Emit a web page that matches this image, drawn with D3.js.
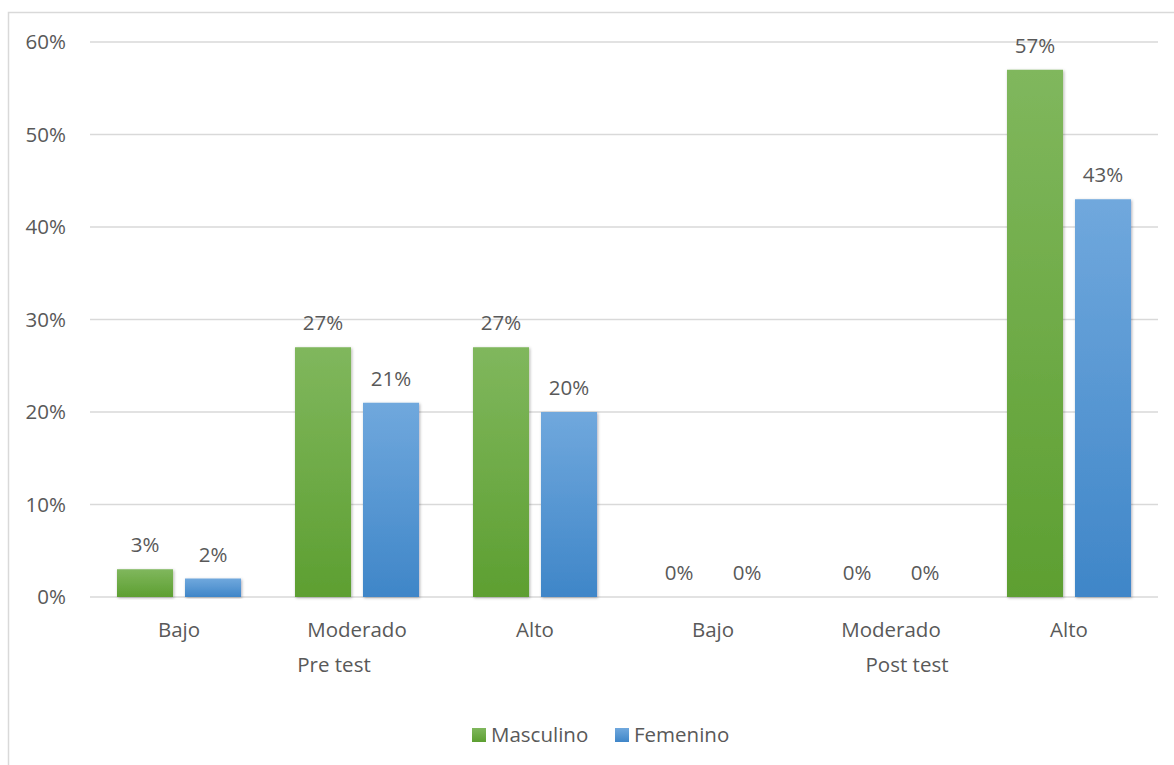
<!DOCTYPE html>
<html>
<head>
<meta charset="utf-8">
<script src="https://cdn.jsdelivr.net/npm/d3@7"></script>
<style>
  body { margin: 0; background: #fff; }
  text { font-family: "Open Sans", "Noto Sans", sans-serif; fill: #595959; font-size: 20.5px; }
</style>
</head>
<body>
<svg id="chart"></svg>
<script>
// chart data
var categories = ["Bajo", "Moderado", "Alto", "Bajo", "Moderado", "Alto"];
var groups = ["Pre test", "Post test"];
var series = ["Masculino", "Femenino"];
var masculino = [3, 27, 27, 0, 0, 57];
var femenino = [2, 21, 20, 0, 0, 43];
var yTicks = [0, 10, 20, 30, 40, 50, 60];

var width = 1174,
    height = 765;

var margin = {left: 90, right: 16, top: 42, bottom: 168};

var svg = d3.select("#chart")
    .attr("width", width)
    .attr("height", height);

// gradients for the bars
var defs = svg.append("defs");
var grads = [["gGreen", "#80b75d", "#5d9f31"], ["gBlue", "#70a8dd", "#3f86c8"]];
grads.forEach(function(g) {
  var lg = defs.append("linearGradient").attr("id", g[0])
      .attr("x1", 0).attr("y1", 0).attr("x2", 0).attr("y2", 1);
  lg.append("stop").attr("offset", "0%").attr("stop-color", g[1]);
  lg.append("stop").attr("offset", "100%").attr("stop-color", g[2]);
});
var f = defs.append("filter").attr("id", "shadow")
    .attr("x", "-20%").attr("y", "-10%").attr("width", "140%").attr("height", "120%");
f.append("feDropShadow").attr("dx", 1).attr("dy", 1).attr("stdDeviation", 1.5)
    .attr("flood-color", "#000").attr("flood-opacity", 0.3);

// chart border (top and left visible)
svg.append("path")
    .attr("d", "M8.5," + (height) + "V12.5H" + width)
    .attr("fill", "none")
    .attr("stroke", "#d9d9d9")
    .attr("stroke-width", 1.5);

var x0 = d3.scaleBand()
    .domain(d3.range(categories.length))
    .range([margin.left, width - margin.right]);

var x1 = d3.scaleBand()
    .domain(series)
    .range([0, x0.bandwidth()])
    .paddingInner(0.176)
    .paddingOuter(0.397);

var y = d3.scaleLinear()
    .domain([0, 60])
    .range([height - margin.bottom, margin.top]);

// gridlines
svg.append("g")
  .selectAll("line")
    .data(yTicks)
  .enter().append("line")
    .attr("x1", margin.left)
    .attr("x2", width - margin.right)
    .attr("y1", function(d) { return y(d); })
    .attr("y2", function(d) { return y(d); })
    .attr("stroke", "#d9d9d9")
    .attr("stroke-width", 1.5);

// y tick labels
svg.append("g")
  .selectAll("text")
    .data(yTicks)
  .enter().append("text")
    .attr("x", 66)
    .attr("y", function(d) { return y(d); })
    .attr("dy", "0.35em")
    .attr("text-anchor", "end")
    .text(function(d) { return d + "%"; });

var rows = categories.map(function(c, i) {
  return {i: i, values: [
    {s: "Masculino", v: masculino[i], fill: "url(#gGreen)"},
    {s: "Femenino", v: femenino[i], fill: "url(#gBlue)"}
  ]};
});

var grp = svg.append("g")
  .selectAll("g")
    .data(rows)
  .enter().append("g")
    .attr("transform", function(d) { return "translate(" + x0(d.i) + ",0)"; });

grp.selectAll("rect")
    .data(function(d) { return d.values.filter(function(v) { return v.v > 0; }); })
  .enter().append("rect")
    .attr("x", function(d) { return x1(d.s); })
    .attr("y", function(d) { return y(d.v); })
    .attr("width", x1.bandwidth())
    .attr("height", function(d) { return y(0) - y(d.v); })
    .attr("fill", function(d) { return d.fill; })
    .attr("filter", "url(#shadow)");

grp.selectAll("text")
    .data(function(d) { return d.values; })
  .enter().append("text")
    .attr("x", function(d) { return x1(d.s) + x1.bandwidth() / 2; })
    .attr("y", function(d) { return y(d.v) - 17; })
    .attr("text-anchor", "middle")
    .text(function(d) { return d.v + "%"; });

// category labels
svg.append("g")
  .selectAll("text")
    .data(categories)
  .enter().append("text")
    .attr("x", function(d, i) { return x0(i) + x0.bandwidth() / 2; })
    .attr("y", 637)
    .attr("text-anchor", "middle")
    .text(function(d) { return d; });

// group labels
var groupOffsets = [-23, 16];
svg.append("g")
  .selectAll("text")
    .data(groups)
  .enter().append("text")
    .attr("x", function(d, i) { return x0(i * 3 + 1) + x0.bandwidth() / 2 + groupOffsets[i]; })
    .attr("y", 672)
    .attr("text-anchor", "middle")
    .text(function(d) { return d; });

// legend
var legend = svg.append("g");
var legendX = [472, 615];
var legendFill = ["url(#gGreen)", "url(#gBlue)"];
series.forEach(function(s, i) {
  legend.append("rect")
      .attr("x", legendX[i])
      .attr("y", 728)
      .attr("width", 14)
      .attr("height", 14)
      .attr("fill", legendFill[i]);
  legend.append("text")
      .attr("x", legendX[i] + 19)
      .attr("y", 735)
      .attr("dy", "0.35em")
      .text(s);
});
</script>
</body>
</html>
